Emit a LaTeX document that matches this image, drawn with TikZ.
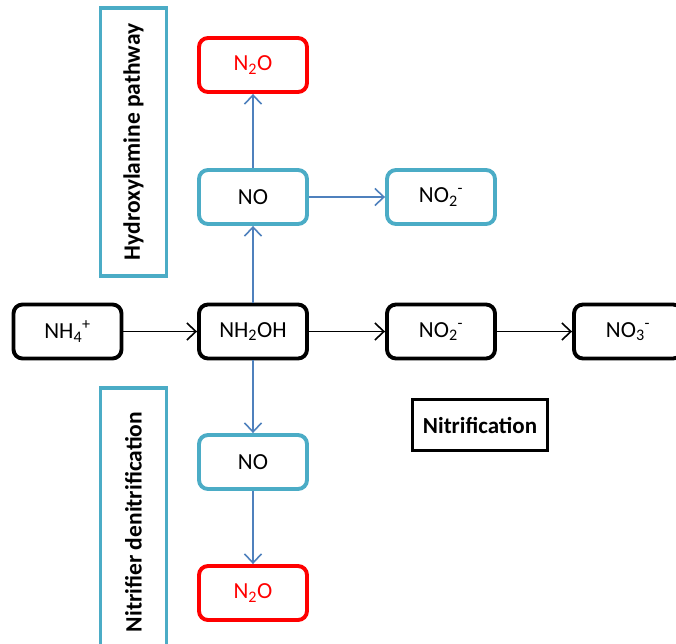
\documentclass[tikz,border=0pt]{standalone}
\usepackage{fontspec}
\setmainfont{Carlito}
\usetikzlibrary{arrows.meta}
\definecolor{boxcyan}{HTML}{4BACC6}
\definecolor{arrblue}{HTML}{4F81BD}
\newcommand{\chemsub}[1]{\textsubscript{#1}}
\newcommand{\chemsup}[1]{\textsuperscript{#1}}
\tikzset{
  species/.style={draw, line width=3.9pt, rounded corners=9pt, minimum width=108pt, minimum height=54pt, font=\fontsize{23}{27}\selectfont},
  blackbox/.style={species, draw=black},
  cyanbox/.style={species, draw=boxcyan},
  redbox/.style={species, draw=red, text=red},
  pathlabel/.style={draw=boxcyan, line width=3.9pt, font=\bfseries\fontsize{23.5}{27}\selectfont, rotate=90, inner sep=0pt},
  blackarrow/.style={-{Straight Barb[length=9pt,width=17pt]}, line width=1.6pt, black},
  bluearrow/.style={-{Straight Barb[length=9pt,width=17pt]}, line width=1.6pt, arrblue}
}
\begin{document}
\begin{tikzpicture}[x=1pt,y=-1pt]
\useasboundingbox (0,0) rectangle (676,643);
% main line
\node[blackbox] (nh4) at (67.5,331.5) {NH\chemsub{4}\chemsup{+}};
\node[blackbox] (nh2oh) at (253,331.5) {NH\chemsub{2}OH};
\node[blackbox] (no2) at (441,331.5) {NO\chemsub{2}\chemsup{-}};
\node[blackbox] (no3) at (628,331.5) {NO\chemsub{3}\chemsup{-}};
% hydroxylamine pathway
\node[cyanbox] (noup) at (253,197) {NO};
\node[cyanbox] (no2up) at (441,197) {NO\chemsub{2}\chemsup{-}};
\node[redbox] (n2oup) at (253,65) {N\chemsub{2}O};
% nitrifier denitrification
\node[cyanbox] (nodown) at (253,462) {NO};
\node[redbox] (n2odown) at (253,593) {N\chemsub{2}O};
% labels
\node[pathlabel, minimum width=268pt, minimum height=66pt] (hyd) at (133.5,142) {Hydroxylamine pathway};
\node[pathlabel, minimum width=268pt, minimum height=66pt, anchor=east] (den) at (133.5,386) {Nitrifier denitrification};
\node[draw, line width=3.9pt, minimum width=135pt, minimum height=51pt, font=\bfseries\fontsize{23}{27}\selectfont] (nit) at (480,425) {Nitrification};
% arrows
\draw[blackarrow] (nh4) -- (nh2oh);
\draw[blackarrow] (nh2oh) -- (no2);
\draw[blackarrow] (no2) -- (no3);
\draw[bluearrow] (nh2oh) -- (noup);
\draw[bluearrow] (noup) -- (n2oup);
\draw[bluearrow] (noup) -- (no2up);
\draw[bluearrow] (nh2oh) -- (nodown);
\draw[bluearrow] (nodown) -- (n2odown);
\end{tikzpicture}
\end{document}
